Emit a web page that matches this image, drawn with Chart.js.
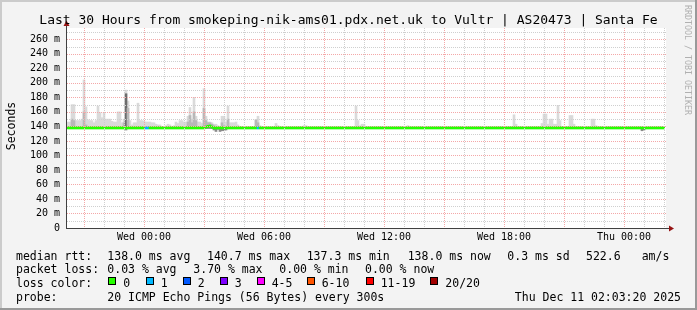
<!DOCTYPE html>
<html><head><meta charset="utf-8">
<script src="https://cdn.jsdelivr.net/npm/chart.js@4/dist/chart.umd.min.js"></script>
<style>html,body{margin:0;padding:0;background:#f3f3f3;overflow:hidden}canvas{display:block}</style>
</head><body>
<canvas id="c" width="697" height="310"></canvas>
<script>
// ---- data (6-minute bins, hours relative to Wed 00:00) ----
const hoursStart = -3.85;
const hoursEnd = 26.05;
const binHours = 0.1;

const timeTickHours = [0, 6, 12, 18, 24];
const timeTickLabels = ['Wed 00:00', 'Wed 06:00', 'Wed 12:00', 'Wed 18:00', 'Thu 00:00'];
const yTickValues = [0, 20, 40, 60, 80, 100, 120, 140, 160, 180, 200, 220, 240, 260];

// max ping of each bin (ms)
const smokeMax = [
146,146,170,170,148,148,148,150,204,167,149,148,148,145,148,168,159,152,159,150,150,150,147,146,146,160,160,145,150,190,
175,148,142,145,145,172,148,148,147,146,146,146,145,145,143,142,142,140,139,141,143,142,140,141,146,144,148,148,146,146,
154,166,150,180,154,146,146,144,192,154,146,146,145,143,143,141,140,154,154,146,168,145,145,145,146,142,140,139,139,139,
139,139,140,140,149,154,141,139,139,139,139,139,139,140,144,141,139,139,139,139,139,139,139,139,139,139,139,139,141,141,
139,139,139,139,139,139,139,139,139,139,139,139,139,139,139,139,139,139,139,139,139,139,139,139,168,148,141,143,143,139,
139,139,139,139,139,139,139,139,139,139,139,139,139,139,139,139,139,139,139,139,141,139,139,139,139,139,139,139,139,139,
139,139,139,139,139,139,139,139,139,139,139,139,139,139,139,139,139,139,139,139,139,139,139,139,139,139,139,139,139,139,
139,139,139,139,139,139,139,139,139,139,139,139,139,156,143,139,139,139,139,139,139,139,139,139,139,139,139,144,157,157,
143,150,150,143,143,169,148,140,139,139,139,155,155,143,139,139,139,139,139,139,139,139,150,150,141,139,139,139,139,139,
139,139,139,139,139,139,139,139,139,139,139,139,139,139,139,139,139,139,139,139,139,139,139,139,139,139,139,139,139
];
// upper dense part of the smoke (ms)
const smokeMid = [
139,139,150,148,139,139,139,139,160,142,139,139,139,139,139,139,139,139,139,139,139,139,139,139,139,139,139,139,145,185,
165,139,139,139,139,139,139,139,139,139,139,139,139,139,139,139,139,139,139,139,139,139,139,139,139,139,139,139,139,139,
146,155,145,160,148,139,139,139,165,148,145,145,143,141,139,139,139,145,141,139,150,139,139,139,139,139,139,139,139,139,
139,139,139,139,149,145,139,139,139,139,139,139,139,139,139,139,139,139,139,139,139,139,139,139,139,139,139,139,139,139,
139,139,139,139,139,139,139,139,139,139,139,139,139,139,139,139,139,139,139,139,139,139,139,139,139,139,139,139,139,139,
139,139,139,139,139,139,139,139,139,139,139,139,139,139,139,139,139,139,139,139,139,139,139,139,139,139,139,139,139,139,
139,139,139,139,139,139,139,139,139,139,139,139,139,139,139,139,139,139,139,139,139,139,139,139,139,139,139,139,139,139,
139,139,139,139,139,139,139,139,139,139,139,139,139,139,139,139,139,139,139,139,139,139,139,139,139,139,139,139,139,139,
139,139,139,139,139,139,139,139,139,139,139,139,139,139,139,139,139,139,139,139,139,139,139,139,139,139,139,139,139,139,
139,139,139,139,139,139,139,139,139,139,139,139,139,139,139,139,139,139,139,139,139,139,139,139,139,139,139,139,139
];
// min ping of each bin (ms)
const smokeMin = [
137,137,137,137,137,137,137,137,137,137,137,137,137,137,137,137,137,137,137,137,137,137,137,137,137,137,137,137,137,135,
137,137,137,137,137,137,137,137,137,137,137,137,137,137,137,137,137,137,137,137,137,137,137,137,137,137,137,137,137,137,
137,137,137,137,137,137,137,137,137,137,137,137,137,135,133,136,133,134,134,135,137,137,137,137,137,137,137,137,137,137,
137,137,137,137,137,137,137,137,137,137,137,137,137,137,137,137,137,137,137,137,137,137,137,137,137,137,137,137,137,137,
137,137,137,137,137,137,137,137,137,137,137,137,137,137,137,137,137,137,137,137,137,137,137,137,137,137,137,137,137,137,
137,137,137,137,137,137,137,137,137,137,137,137,137,137,137,137,137,137,137,137,137,137,137,137,137,137,137,137,137,137,
137,137,137,137,137,137,137,137,137,137,137,137,137,137,137,137,137,137,137,137,137,137,137,137,137,137,137,137,137,137,
137,137,137,137,137,137,137,137,137,137,137,137,137,137,137,137,137,137,137,137,137,137,137,137,137,137,137,137,137,137,
137,137,137,137,137,137,137,137,137,137,137,137,137,137,137,137,137,137,137,137,137,137,137,137,137,137,137,137,137,137,
137,137,137,137,137,137,137,137,137,137,137,137,137,137,137,137,137,134,135,137,137,137,137,137,137,137,137,137,137
];
// median rtt (ms)
const medianRtt = [
138,138,138,138,138,138,138,138,138,138,138,138,138,138,138,138,138,138,138,138,138,138,138,138,138,138,138,138,138,138,
138,138,138,138,138,138,138,138,138,138,138,138,138,138,138,138,138,138,138,138,138,138,138,138,138,138,138,138,138,138,
138,138,138,138,138,138,138,138,138,139,140,140.5,139,138,138,138,138,138,138,138,138,138,138,138,138,138,138,138,138,138,
138,138,138,138,138,138,138,138,138,138,138,138,138,138,138,138,138,138,138,138,138,138,138,138,138,138,138,138,138,138,
138,138,138,138,138,138,138,138,138,138,138,138,138,138,138,138,138,138,138,138,138,138,138,138,138,138,138,138,138,138,
138,138,138,138,138,138,138,138,138,138,138,138,138,138,138,138,138,138,138,138,138,138,138,138,138,138,138,138,138,138,
138,138,138,138,138,138,138,138,138,138,138,138,138,138,138,138,138,138,138,138,138,138,138,138,138,138,138,138,138,138,
138,138,138,138,138,138,138,138,138,138,138,138,138,138,138,138,138,138,138,138,138,138,138,138,138,138,138,138,138,138,
138,138,138,138,138,138,138,138,138,138,138,138,138,138,138,138,138,138,138,138,138,138,138,138,138,138,138,138,138,138,
138,138,138,138,138,138,138,138,138,138,138,138,138,138,138,138,138,138,138,138,138,138,138,138,138,138,138,138,138
];
// lost pings out of 20
const lostPings = [
0,0,0,0,0,0,0,0,0,0,0,0,0,0,0,0,0,0,0,0,0,0,0,0,0,0,0,0,0,0,
0,0,0,0,0,0,0,0,0,1,1,0,0,0,0,0,0,0,0,0,0,0,0,0,0,0,0,0,0,0,
0,0,0,0,0,0,0,0,0,0,0,0,0,0,0,0,0,0,0,0,0,0,0,0,0,0,0,0,0,0,
0,0,0,0,0,1,0,0,0,0,0,0,0,0,0,0,0,0,0,0,0,0,0,0,0,0,0,0,0,0,
0,0,0,0,0,0,0,0,0,0,0,0,0,0,0,0,0,0,0,0,0,0,0,0,0,0,0,0,0,0,
0,0,0,0,0,0,0,0,0,0,0,0,0,0,0,0,0,0,0,0,0,0,0,0,0,0,0,0,0,0,
0,0,0,0,0,0,0,0,0,0,0,0,0,0,0,0,0,0,0,0,0,0,0,0,0,0,0,0,0,0,
0,0,0,0,0,0,0,0,0,0,0,0,0,0,0,0,0,0,0,0,0,0,0,0,0,0,0,0,0,0,
0,0,0,0,0,0,0,0,0,0,0,0,0,0,0,0,0,0,0,0,0,0,0,0,0,0,0,0,0,0,
0,0,0,0,0,0,0,0,0,0,0,0,0,0,0,0,0,0,0,0,0,0,0,0,0,0,0,0,0
];

const lossLabels = ['0', '1', '2', '3', '4-5', '6-10', '11-19', '20/20'];
const lossColors = ['#26ff00', '#00b8ff', '#0059ff', '#7e00ff', '#ff00ff', '#ff5500', '#ff0000', '#a10000'];

const titleText = 'Last 30 Hours from smokeping-nik-ams01.pdx.net.uk to Vultr | AS20473 | Santa Fe';
const legendRtt = ['138.0 ms avg', '140.7 ms max', '137.3 ms min', '138.0 ms now', '0.3 ms sd', '522.6', 'am/s'];
const legendLoss = ['0.03 % avg', '3.70 % max', '0.00 % min', '0.00 % now'];
const probeText = '20 ICMP Echo Pings (56 Bytes) every 300s';
const stampText = 'Thu Dec 11 02:03:20 2025';

// ---- chart ----
const sampleHours = smokeMax.map((_, i) => hoursStart + (i + 0.5) * binHours);
function lossColor(n) {
  if (n <= 0) return lossColors[0];
  if (n === 1) return lossColors[1];
  if (n === 2) return lossColors[2];
  if (n === 3) return lossColors[3];
  if (n <= 5) return lossColors[4];
  if (n <= 10) return lossColors[5];
  if (n <= 19) return lossColors[6];
  return lossColors[7];
}
const LINE_HALF = 1.5;

const MONO = "'DejaVu Sans Mono', monospace";

const decor = {
  id: 'decor',
  beforeDraw(c) {
    const g = c.ctx, a = c.chartArea, W = c.width, H = c.height;
    g.save();
    g.fillStyle = '#f3f3f3'; g.fillRect(0, 0, W, H);
    g.fillStyle = '#ffffff'; g.fillRect(a.left, a.top, a.right - a.left + 1, a.bottom - a.top);
    g.fillStyle = '#cbcbcb'; g.fillRect(0, 0, W, 2); g.fillRect(0, 0, 2, H);
    g.fillStyle = '#999999'; g.fillRect(0, H - 2, W, 2); g.fillRect(W - 2, 0, 2, H);
    g.restore();
  },
  afterDatasetsDraw(c) {
    const g = c.ctx, a = c.chartArea, xs = c.scales.x, ys = c.scales.y;
    g.save();
    g.lineWidth = 1; g.setLineDash([1, 1]);
    for (let h = Math.ceil(hoursStart); h <= Math.floor(hoursEnd); h++) {
      const x = Math.round(xs.getPixelForValue(h)) + 0.5;
      g.strokeStyle = (h % 3 === 0) ? '#f4a8a8' : '#cfcfcf';
      g.beginPath(); g.moveTo(x, a.top); g.lineTo(x, a.bottom); g.stroke();
    }
    for (let v = 10; v <= ys.max; v += 10) {
      const y = Math.round(ys.getPixelForValue(v)) + 0.5;
      g.strokeStyle = (v % 20 === 0) ? '#f4a8a8' : '#cfcfcf';
      g.beginPath(); g.moveTo(a.left, y); g.lineTo(a.right + 1, y); g.stroke();
    }
    g.setLineDash([]);
    // axes
    const x0 = Math.round(a.left) - 1, y0 = Math.round(a.bottom);
    g.fillStyle = '#404040';
    g.fillRect(x0, 26, 1, y0 - 26 + 1);
    g.fillRect(x0, y0, a.right - x0 + 4, 1);
    // arrows
    g.fillStyle = '#961414';
    g.beginPath(); g.moveTo(x0 - 2.5, 26); g.lineTo(x0 + 3.5, 26); g.lineTo(x0 + 0.5, 20.5); g.closePath(); g.fill();
    const xe = a.right + 4;
    g.beginPath(); g.moveTo(xe, y0 - 2.5); g.lineTo(xe, y0 + 3.5); g.lineTo(xe + 5, y0 + 0.5); g.closePath(); g.fill();
    g.restore();
  },
  afterDraw(c) {
    const g = c.ctx;
    g.save();
    g.fillStyle = '#000';
    g.textBaseline = 'alphabetic';
    g.font = '13px ' + MONO; g.textAlign = 'center';
    g.fillText(titleText, 348.5, 24);
    g.font = '11.5px ' + MONO;
    g.save(); g.translate(14.5, 126); g.rotate(-Math.PI / 2); g.fillText('Seconds', 0, 0); g.restore();
    g.save(); g.fillStyle = '#b0b0b0'; g.font = '8.3px ' + MONO; g.translate(684.5, 60); g.rotate(Math.PI / 2);
    g.fillText('RRDTOOL / TOBI OETIKER', 0, 0); g.restore();
    g.textAlign = 'left';
    const L1 = 259.5, L2 = 273.3, L3 = 287.1, L4 = 300.8;
    g.fillText('median rtt:', 16, L1);
    const rttX = [107.3, 207, 306.7, 407.7, 507.3, 586, 641.7];
    legendRtt.forEach((s, i) => g.fillText(s, rttX[i], L1));
    g.fillText('packet loss:', 16, L2);
    const lossX = [107.3, 193.3, 279.3, 365];
    legendLoss.forEach((s, i) => g.fillText(s, lossX[i], L2));
    g.fillText('loss color:', 16, L3);
    const boxX = [108.3, 145.7, 182.7, 219.7, 256.7, 306.7, 365.7, 430.3];
    lossLabels.forEach((s, i) => {
      const bx = Math.round(boxX[i]);
      g.fillStyle = lossColors[i]; g.fillRect(bx, 277, 8, 8);
      g.strokeStyle = '#000'; g.lineWidth = 1; g.strokeRect(bx + 0.5, 277.5, 7, 7);
      g.fillStyle = '#000'; g.fillText(s, boxX[i] + 15, L3);
    });
    g.fillText('probe:', 16, L4);
    g.fillText(probeText, 107.3, L4);
    g.textAlign = 'right';
    g.fillText(stampText, 681, L4);
    g.restore();
  }
};

const barCommon = { grouped: false, barPercentage: 1, categoryPercentage: 1, borderWidth: 0, borderSkipped: false };

new Chart(document.getElementById('c'), {
  type: 'bar',
  data: {
    datasets: [
      Object.assign({ label: 'median rtt', order: 0,
        data: medianRtt.map((m, i) => ({ x: sampleHours[i], y: [m - LINE_HALF, m + LINE_HALF] })),
        backgroundColor: (ctx) => lossColor(lostPings[ctx.dataIndex] || 0) }, barCommon),
      Object.assign({ label: 'smoke low', order: 1,
        data: smokeMin.map((v, i) => ({ x: sampleHours[i], y: [v, medianRtt[i]] })),
        backgroundColor: '#8c8c8c' }, barCommon),
      Object.assign({ label: 'smoke dense', order: 2,
        data: smokeMid.map((v, i) => ({ x: sampleHours[i], y: [medianRtt[i], v] })),
        backgroundColor: (ctx) => (smokeMid[ctx.dataIndex] >= 170 ? '#6c6c6c' : '#b8b8b8') }, barCommon),
      Object.assign({ label: 'smoke', order: 3,
        data: smokeMax.map((v, i) => ({ x: sampleHours[i], y: [medianRtt[i], v] })),
        backgroundColor: '#dadada' }, barCommon)
    ]
  },
  options: {
    responsive: false, animation: false, devicePixelRatio: 1,
    layout: { padding: { top: 28, right: 32, bottom: 0, left: 0 } },
    plugins: { legend: { display: false }, tooltip: { enabled: false }, title: { display: false } },
    scales: {
      x: {
        type: 'linear', min: hoursStart, max: hoursEnd, offset: false,
        grid: { display: false, offset: false, drawTicks: false }, border: { display: false },
        afterBuildTicks(s) { s.ticks = timeTickHours.map(v => ({ value: v })); },
        afterFit(s) { s.height = 82; },
        ticks: {
          autoSkip: false, maxRotation: 0, minRotation: 0, padding: 3, color: '#000',
          font: { family: MONO, size: 10 },
          callback(v) { const k = timeTickHours.indexOf(v); return k >= 0 ? timeTickLabels[k] : ''; }
        }
      },
      y: {
        min: 0, max: 275.6,
        grid: { display: false, drawTicks: false }, border: { display: false },
        afterBuildTicks(s) { s.ticks = yTickValues.map(v => ({ value: v })); },
        afterFit(s) { s.width = 67; },
        ticks: {
          padding: 7, color: '#000', font: { family: MONO, size: 10 },
          callback(v) { return v === 0 ? '0' : v + ' m'; }
        }
      }
    }
  },
  plugins: [decor]
});
</script>
</body></html>
